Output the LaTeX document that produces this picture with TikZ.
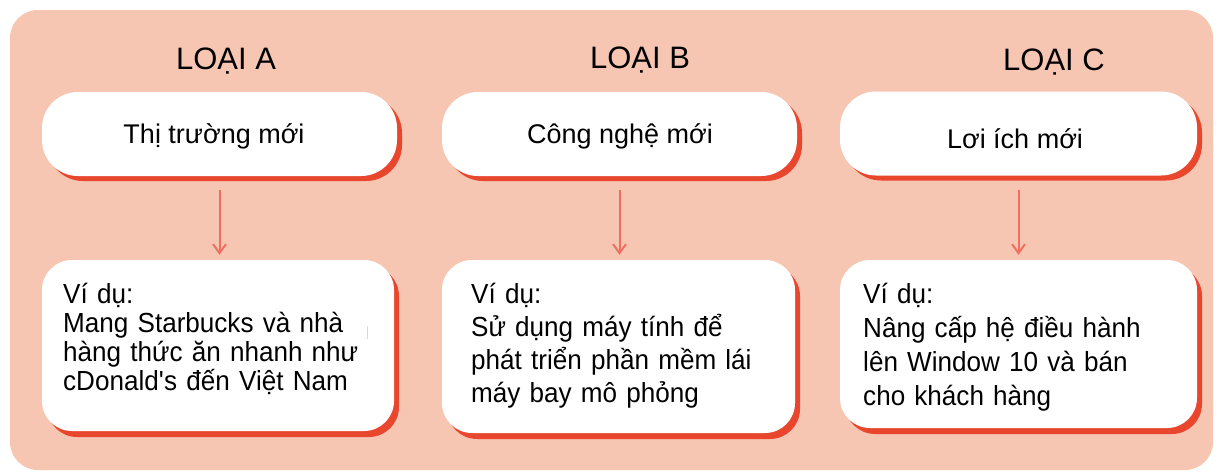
\documentclass[tikz,border=0pt]{standalone}
\usepackage{fontspec}
\setmainfont{Liberation Sans}
\newfontfamily\bodyfont{Liberation Sans}[FakeStretch=0.945]
\usetikzlibrary{shadows,arrows.meta}
\definecolor{bgsalmon}{HTML}{F6C6B3}
\definecolor{shred}{HTML}{E8472E}
\definecolor{arrred}{HTML}{EF7060}
\definecolor{faintblue}{HTML}{C9DDF2}
\begin{document}
\begin{tikzpicture}[x=1pt,y=-1pt,
  pill/.style={fill=white, rounded corners=36pt, inner sep=0pt,
    drop shadow={shadow xshift=5pt, shadow yshift=-5pt, fill=shred, opacity=1},
    minimum width=355pt, minimum height=84pt},
  card/.style={fill=white, rounded corners=30pt, inner sep=0pt,
    drop shadow={shadow xshift=5pt, shadow yshift=-6pt, fill=shred, opacity=1}},
  titletext/.style={font=\fontsize{31}{36}\selectfont, anchor=base, inner sep=0pt},
  headtext/.style={font=\fontsize{27}{30}\selectfont, anchor=base, inner sep=0pt},
  bodytext/.style={anchor=base west, inner sep=0pt, text width=335pt, align=left},
  arr/.style={draw=arrred, line width=2pt, -{Straight Barb[length=9pt,width=13pt]},
    shorten <=14pt, shorten >=5pt}]
\useasboundingbox (0,0) rectangle (1217,471);
\fill[bgsalmon, rounded corners=28pt] (10,10) rectangle (1213,470);

% titles
\node[titletext] (tA) at (226,69) {LOẠI A};
\node[titletext] (tB) at (640,68) {LOẠI B};
\node[titletext] (tC) at (1054,70) {LOẠI C};

% top boxes
\node[pill] (topA) at (219.5,134) {};
\node[pill] (topB) at (619.5,134) {};
\node[pill, minimum width=357pt] (topC) at (1018.5,133.5) {};
\node[headtext] (hA) at (214,143) {Thị trường mới};
\node[headtext] (hB) at (620,143) {Công nghệ mới};
\node[headtext] (hC) at (1015,148) {Lơi ích mới};

% bottom boxes
\node[card, minimum width=352pt, minimum height=171pt] (botA) at (218,345.5) {};
\node[card, minimum width=353pt, minimum height=173pt] (botB) at (618.5,346.5) {};
\node[card, minimum width=357pt, minimum height=168pt] (botC) at (1018.5,344) {};

\node[bodytext, font=\bodyfont\fontsize{27.6}{29.3}\selectfont] (xA) at (63,303)
  {Ví dụ:\\Mang Starbucks và nhà\\hàng thức ăn nhanh như\\cDonald\textquotesingle s đến Việt Nam};
\node[bodytext, font=\bodyfont\fontsize{27.6}{33.3}\selectfont] (xB) at (471,303)
  {Ví dụ:\\Sử dụng máy tính để\\phát triển phần mềm lái\\máy bay mô phỏng};
\node[bodytext, font=\bodyfont\fontsize{27.6}{34.2}\selectfont] (xC) at (863,303)
  {Ví dụ:\\Nâng cấp hệ điều hành\\lên Window 10 và bán\\cho khách hàng};

% faint mark
\coordinate (mk1) at (367,326);
\coordinate (mk2) at (367,339);
\draw[faintblue, line width=1pt] (mk1) -- (mk2);

% arrows
\draw[arr] (topA.south) -- (topA.south |- botA.north);
\draw[arr] (topB.south) -- (topB.south |- botB.north);
\draw[arr] (topC.south) -- (topC.south |- botC.north);
\end{tikzpicture}
\end{document}
